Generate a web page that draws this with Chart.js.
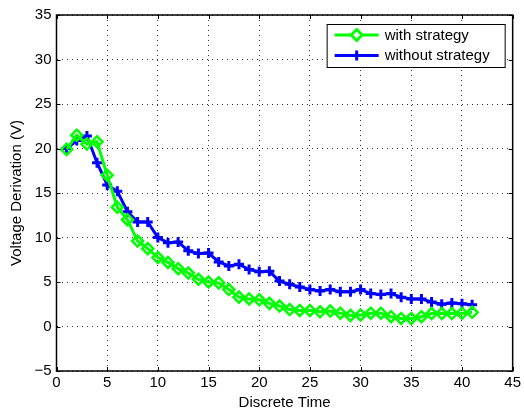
<!DOCTYPE html>
<html>
<head>
<meta charset="utf-8">
<script src="https://cdn.jsdelivr.net/npm/chart.js@4/dist/chart.umd.min.js"></script>
<style>
  html, body { margin: 0; padding: 0; background: #fff; }
  #wrap { width: 524px; height: 409px; }
</style>
</head>
<body>
<div id="wrap"><canvas id="chart" width="524" height="409"></canvas></div>
<script>
// Datos
const discreteTime = [1,2,3,4,5,6,7,8,9,10,11,12,13,14,15,16,17,18,19,20,21,22,23,24,25,26,27,28,29,30,31,32,33,34,35,36,37,38,39,40,41];
const withStrategy = [19.9,21.5,20.5,20.75,17.0,13.4,12.0,9.6,8.75,7.75,7.2,6.5,6.0,5.3,5.0,4.9,4.15,3.3,3.1,3.0,2.6,2.3,1.9,1.8,1.8,1.65,1.75,1.5,1.25,1.3,1.5,1.5,1.1,0.9,0.9,1.1,1.45,1.45,1.45,1.5,1.6];
const withoutStrategy = [20.0,20.9,21.4,18.4,15.9,15.2,12.9,11.75,11.75,10.0,9.4,9.5,8.5,8.2,8.25,7.25,6.8,7.0,6.4,6.15,6.2,5.1,4.75,4.45,4.15,4.0,4.15,3.9,3.9,4.15,3.7,3.6,3.7,3.3,3.1,3.1,2.75,2.5,2.65,2.55,2.45];
const seriesNames = ['with strategy', 'without strategy'];
const xTicks = [0,5,10,15,20,25,30,35,40,45];
const yTicks = [-5,0,5,10,15,20,25,30,35];

const FONT = "'Liberation Sans', Arial, Helvetica, sans-serif";
const FSIZE = 15;

function toPoints(ys) {
    return ys.map((y, i) => ({ x: discreteTime[i], y: y }));
}

// Caja, marcas interiores y leyenda estilo MATLAB
const matlabFrame = {
    id: 'matlabFrame',
    afterDraw(chart) {
        const ctx = chart.ctx;
        const a = chart.chartArea;
        const sx = chart.scales.x, sy = chart.scales.y;
        ctx.save();
        ctx.strokeStyle = '#000';
        ctx.lineWidth = 1;
        ctx.beginPath();
        xTicks.forEach(v => {
            const px = Math.round(sx.getPixelForValue(v)) + 0.5;
            ctx.moveTo(px, a.bottom); ctx.lineTo(px, a.bottom - 4);
            ctx.moveTo(px, a.top); ctx.lineTo(px, a.top + 4);
        });
        yTicks.forEach(v => {
            const py = Math.round(sy.getPixelForValue(v)) + 0.5;
            ctx.moveTo(a.left, py); ctx.lineTo(a.left + 4, py);
            ctx.moveTo(a.right, py); ctx.lineTo(a.right - 4, py);
        });
        ctx.stroke();
        ctx.lineWidth = 1.5;
        ctx.strokeRect(a.left, a.top, a.right - a.left, a.bottom - a.top);

        // leyenda
        const bx = a.right - 186, by = a.top + 9, bw = 178, bh = 43;
        ctx.fillStyle = '#fff';
        ctx.fillRect(bx, by, bw, bh);
        ctx.lineWidth = 1;
        ctx.strokeRect(bx + 0.5, by + 0.5, bw, bh);
        chart.data.datasets.forEach((ds, i) => {
            const ry = by + 11 + i * 20.5;
            const x0 = bx + 8, x1 = bx + 52;
            ctx.strokeStyle = ds.borderColor;
            ctx.lineWidth = ds.borderWidth;
            ctx.beginPath(); ctx.moveTo(x0, ry); ctx.lineTo(x1, ry); ctx.stroke();
            Chart.helpers.drawPoint(ctx, {
                pointStyle: ds.pointStyle,
                radius: ds.pointRadius,
                borderWidth: ds.pointBorderWidth
            }, (x0 + x1) / 2, ry);
            ctx.fillStyle = '#000';
            ctx.font = FSIZE + 'px ' + FONT;
            ctx.textBaseline = 'middle';
            ctx.textAlign = 'left';
            ctx.fillText(ds.label, x1 + 6, ry + 0.5);
        });
        ctx.restore();
    }
};

new Chart(document.getElementById('chart'), {
    type: 'line',
    data: {
        datasets: [
            {
                label: seriesNames[0],
                data: toPoints(withStrategy),
                borderColor: '#00ff00',
                backgroundColor: 'rgba(0,0,0,0)',
                borderWidth: 3,
                pointStyle: 'rectRot',
                pointRadius: 5.5,
                pointBorderWidth: 2.5,
                pointBorderColor: '#00ff00',
                pointBackgroundColor: 'rgba(0,0,0,0)',
                tension: 0
            },
            {
                label: seriesNames[1],
                data: toPoints(withoutStrategy),
                borderColor: '#0000ff',
                backgroundColor: 'rgba(0,0,0,0)',
                borderWidth: 3,
                pointStyle: 'cross',
                pointRadius: 5,
                pointBorderWidth: 3,
                pointBorderColor: '#0000ff',
                pointBackgroundColor: '#0000ff',
                tension: 0
            }
        ]
    },
    options: {
        responsive: false,
        animation: false,
        layout: { padding: { top: 15, right: 11, left: 0, bottom: 0 } },
        plugins: {
            legend: { display: false },
            tooltip: { enabled: false }
        },
        scales: {
            x: {
                type: 'linear',
                min: 0,
                max: 45,
                afterBuildTicks: s => { s.ticks = xTicks.map(v => ({ value: v })); },
                afterFit: s => { s.height = 38; },
                ticks: { color: '#000', font: { family: FONT, size: FSIZE }, padding: 3, maxRotation: 0 },
                grid: { color: '#333', drawTicks: false, lineWidth: 1 },
                border: { display: false, dash: [1, 4] },
                title: { display: true, text: 'Discrete Time', color: '#000', font: { family: FONT, size: FSIZE }, padding: { top: 0, bottom: -3 } }
            },
            y: {
                min: -5,
                max: 35,
                afterBuildTicks: s => { s.ticks = yTicks.map(v => ({ value: v })); },
                afterFit: s => { s.width = 56.5; },
                ticks: {
                    color: '#000',
                    font: { family: FONT, size: FSIZE },
                    padding: 5,
                    callback: v => String(v).replace('-', '\u2212')
                },
                grid: { color: '#333', drawTicks: false, lineWidth: 1 },
                border: { display: false, dash: [1, 4] },
                title: { display: true, text: 'Voltage Derivation (V)', color: '#000', font: { family: FONT, size: FSIZE }, padding: { top: 8, bottom: 0 } }
            }
        }
    },
    plugins: [matlabFrame]
});
</script>
</body>
</html>
